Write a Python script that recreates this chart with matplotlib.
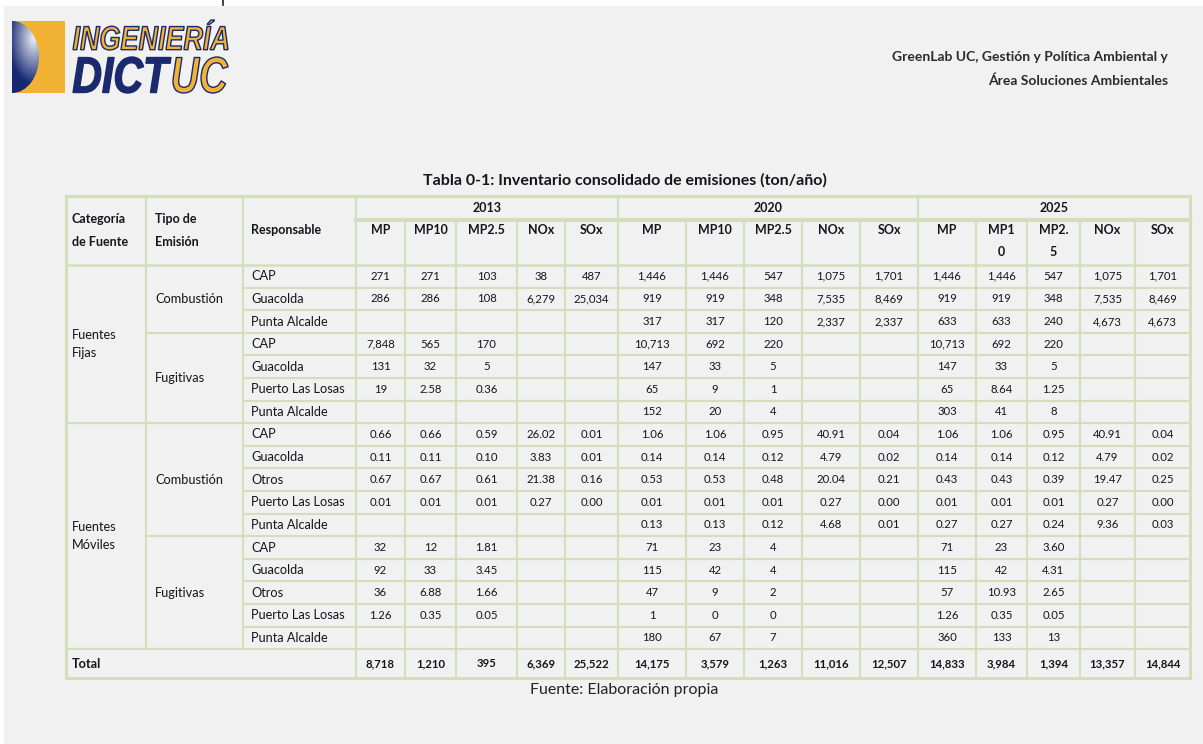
#!/usr/bin/env python
#-*- coding: utf-8 -*-

import numpy as np
import matplotlib
matplotlib.use('Agg')
import matplotlib.pyplot as plt
from matplotlib.patches import Rectangle, Ellipse, PathPatch
from matplotlib.textpath import TextPath
from matplotlib.font_manager import FontProperties
from matplotlib.transforms import Affine2D

# ---- table content ----
title = 'Tabla 0-1: Inventario consolidado de emisiones (ton/año)'
source = 'Fuente: Elaboración propia'
header_right = ['GreenLab UC, Gestión y Política Ambiental y', 'Área Soluciones Ambientales']

years = ['2013', '2020', '2025']
pollutants = ['MP', 'MP10', 'MP2.5', 'NOx', 'SOx']
pollutants_2025 = ['MP', 'MP1\n0', 'MP2.\n5', 'NOx', 'SOx']

categorias = ['Fuentes\nFijas', 'Fuentes\nMóviles']
categoria_rows = [7, 10]
tipos = ['Combustión', 'Fugitivas', 'Combustión', 'Fugitivas']
tipo_rows = [3, 4, 5, 5]

responsables = ['CAP', 'Guacolda', 'Punta Alcalde',
                'CAP', 'Guacolda', 'Puerto Las Losas', 'Punta Alcalde',
                'CAP', 'Guacolda', 'Otros', 'Puerto Las Losas', 'Punta Alcalde',
                'CAP', 'Guacolda', 'Otros', 'Puerto Las Losas', 'Punta Alcalde']

vals_2013 = [
    ['271', '271', '103', '38', '487'],
    ['286', '286', '108', '6,279', '25,034'],
    ['', '', '', '', ''],
    ['7,848', '565', '170', '', ''],
    ['131', '32', '5', '', ''],
    ['19', '2.58', '0.36', '', ''],
    ['', '', '', '', ''],
    ['0.66', '0.66', '0.59', '26.02', '0.01'],
    ['0.11', '0.11', '0.10', '3.83', '0.01'],
    ['0.67', '0.67', '0.61', '21.38', '0.16'],
    ['0.01', '0.01', '0.01', '0.27', '0.00'],
    ['', '', '', '', ''],
    ['32', '12', '1.81', '', ''],
    ['92', '33', '3.45', '', ''],
    ['36', '6.88', '1.66', '', ''],
    ['1.26', '0.35', '0.05', '', ''],
    ['', '', '', '', ''],
]
vals_2020 = [
    ['1,446', '1,446', '547', '1,075', '1,701'],
    ['919', '919', '348', '7,535', '8,469'],
    ['317', '317', '120', '2,337', '2,337'],
    ['10,713', '692', '220', '', ''],
    ['147', '33', '5', '', ''],
    ['65', '9', '1', '', ''],
    ['152', '20', '4', '', ''],
    ['1.06', '1.06', '0.95', '40.91', '0.04'],
    ['0.14', '0.14', '0.12', '4.79', '0.02'],
    ['0.53', '0.53', '0.48', '20.04', '0.21'],
    ['0.01', '0.01', '0.01', '0.27', '0.00'],
    ['0.13', '0.13', '0.12', '4.68', '0.01'],
    ['71', '23', '4', '', ''],
    ['115', '42', '4', '', ''],
    ['47', '9', '2', '', ''],
    ['1', '0', '0', '', ''],
    ['180', '67', '7', '', ''],
]
vals_2025 = [
    ['1,446', '1,446', '547', '1,075', '1,701'],
    ['919', '919', '348', '7,535', '8,469'],
    ['633', '633', '240', '4,673', '4,673'],
    ['10,713', '692', '220', '', ''],
    ['147', '33', '5', '', ''],
    ['65', '8.64', '1.25', '', ''],
    ['303', '41', '8', '', ''],
    ['1.06', '1.06', '0.95', '40.91', '0.04'],
    ['0.14', '0.14', '0.12', '4.79', '0.02'],
    ['0.43', '0.43', '0.39', '19.47', '0.25'],
    ['0.01', '0.01', '0.01', '0.27', '0.00'],
    ['0.27', '0.27', '0.24', '9.36', '0.03'],
    ['71', '23', '3.60', '', ''],
    ['115', '42', '4.31', '', ''],
    ['57', '10.93', '2.65', '', ''],
    ['1.26', '0.35', '0.05', '', ''],
    ['360', '133', '13', '', ''],
]
totals_2013 = ['8,718', '1,210', '395', '6,369', '25,522']
totals_2020 = ['14,175', '3,579', '1,263', '11,016', '12,507']
totals_2025 = ['14,833', '3,984', '1,394', '13,357', '14,844']

# ---- layout (pixels) ----
W, H = 1203, 744
col_x = [66, 146, 243, 356, 405, 456, 517, 565, 618, 686, 744, 802,
         860, 918, 976, 1027, 1080, 1135, 1190]
y_top = 196
y_year = 220
y_head = 265
row_h = 22.6
y_total_bot = 678

bg = '#f1f1f1'
grid = '#d3dfbc'
ink = '#15151c'
font = 'Lato'


def hline(ax, y, x0, x1, lw=1.5):
	ax.plot([x0, x1], [y, y], color=grid, lw=lw, solid_capstyle='projecting', zorder=2)


def vline(ax, x, y0, y1, lw=1.5):
	ax.plot([x, x], [y0, y1], color=grid, lw=lw, solid_capstyle='projecting', zorder=2)


def word(ax, s, x0, x1, y0, y1, face, edge, lw=1.0):
	prop = FontProperties(family='Liberation Sans', weight='bold', style='italic')
	tp = TextPath((0, 0), s, size=40, prop=prop)
	bb = tp.get_extents()
	sx = (x1 - x0) / bb.width
	sy = (y1 - y0) / bb.height
	tr = Affine2D().translate(-bb.x0, -bb.y0).scale(sx, -sy).translate(x0, y1)
	ax.add_patch(PathPatch(tr.transform_path(tp), facecolor=face, edgecolor=edge, lw=lw, zorder=5))


def logo(ax):
	yel = '#f2b233'
	navy = '#1b2a6e'
	ax.add_patch(Rectangle((12, 21), 53, 72, facecolor=yel, edgecolor='none', zorder=3))
	# shaded half disc
	gx = np.linspace(12, 40, 60)
	gy = np.linspace(21, 93, 150)
	X, Y = np.meshgrid(gx, gy)
	d = np.sqrt(((X - 34) / 26.0) ** 2 + ((Y - 38) / 46.0) ** 2)
	t = np.clip(d, 0, 1)[..., None]
	light = np.array([0.93, 0.94, 0.97])
	dark = np.array([0.09, 0.16, 0.45])
	img = light * (1 - t) + dark * t
	im = ax.imshow(img, extent=(12, 40, 93, 21), origin='upper', zorder=4, interpolation='bilinear')
	im.set_clip_path(Ellipse((12, 57), 54, 72, transform=ax.transData))
	ax.set_aspect('auto')
	word(ax, 'INGENIERÍA', 73, 228, 20, 50, yel, navy)
	word(ax, 'DICT', 73, 171, 57, 93, navy, navy)
	word(ax, 'UC', 173, 228, 57, 93, yel, navy)


def main():

	fig = plt.figure(figsize=(W / 100.0, H / 100.0), dpi=100)
	fig.patch.set_facecolor(bg)
	ax = fig.add_axes([0, 0, 1, 1])
	ax.set_xlim(0, W)
	ax.set_ylim(H, 0)
	ax.axis('off')

	# white page edges
	ax.add_patch(Rectangle((0, 0), W, 6, facecolor='white', edgecolor='none', zorder=1))
	ax.add_patch(Rectangle((0, 0), 4, H, facecolor='white', edgecolor='none', zorder=1))
	ax.plot([223, 223], [0, 5], color='#222222', lw=1.2, zorder=2)

	logo(ax)

	ax.text(1168, 57, header_right[0], ha='right', va='center', fontsize=10,
	        fontweight='bold', color='#2b2b2b', family=font)
	ax.text(1168, 81, header_right[1], ha='right', va='center', fontsize=10,
	        fontweight='bold', color='#2b2b2b', family=font)

	ax.text(625, 180, title, ha='center', va='center', fontsize=11.5,
	        fontweight='bold', color=ink, family=font)

	n = len(responsables)
	row_y = [y_head + i * row_h for i in range(n + 1)]
	y_bot_data = row_y[-1]

	# ---- grid ----
	x0, x1 = col_x[0], col_x[-1]
	hline(ax, y_top, x0, x1, lw=2.2)
	hline(ax, y_year, col_x[3], x1, lw=3.0)
	hline(ax, y_head, x0, x1, lw=1.8)
	hline(ax, y_total_bot, x0, x1, lw=2.2)
	hline(ax, y_bot_data, x0, x1)
	for i in range(1, n):
		hline(ax, row_y[i], col_x[2], x1)
	k = 0
	for r in tipo_rows[:-1]:
		k += r
		hline(ax, row_y[k], col_x[1], col_x[2])
	k = 0
	for r in categoria_rows[:-1]:
		k += r
		hline(ax, row_y[k], col_x[0], col_x[1])

	vline(ax, x0, y_top, y_total_bot, lw=2.2)
	vline(ax, x1, y_top, y_total_bot, lw=2.2)
	vline(ax, col_x[1], y_top, y_bot_data)
	vline(ax, col_x[2], y_top, y_bot_data)
	for j in range(3, len(col_x) - 1):
		if (j - 3) % 5 == 0:
			vline(ax, col_x[j], y_top, y_total_bot)
		else:
			vline(ax, col_x[j], y_year, y_total_bot)

	# ---- header text ----
	ax.text(72, (y_top + y_head) / 2.0, 'Categoría\nde Fuente', ha='left', va='center',
	        fontsize=9, fontweight='bold', color=ink, family=font, linespacing=2.15)
	ax.text(155, (y_top + y_head) / 2.0, 'Tipo de\nEmisión', ha='left', va='center',
	        fontsize=9, fontweight='bold', color=ink, family=font, linespacing=2.15)
	ax.text(251, (y_top + y_head) / 2.0, 'Responsable', ha='left', va='center',
	        fontsize=9, fontweight='bold', color=ink, family=font)
	for b, yr in enumerate(years):
		xa = col_x[3 + 5 * b]
		xb = col_x[8 + 5 * b]
		ax.text((xa + xb) / 2.0, (y_top + y_year) / 2.0, yr, ha='center', va='center',
		        fontsize=9, fontweight='bold', color=ink, family=font)
		labels = pollutants_2025 if yr == '2025' else pollutants
		for j, lab in enumerate(labels):
			xc = (col_x[3 + 5 * b + j] + col_x[4 + 5 * b + j]) / 2.0
			ax.text(xc, y_year + 4, lab, ha='center', va='top', fontsize=9,
			        fontweight='bold', color=ink, family=font, linespacing=2.0)

	# ---- body text ----
	k = 0
	for cat, r in zip(categorias, categoria_rows):
		yc = (row_y[k] + row_y[k + r]) / 2.0
		ax.text(72, yc, cat, ha='left', va='center', fontsize=9.2, color=ink,
		        family=font, linespacing=1.6)
		k += r
	k = 0
	for tp, r in zip(tipos, tipo_rows):
		yc = (row_y[k] + row_y[k + r]) / 2.0
		ax.text(155, yc, tp, ha='left', va='center', fontsize=9.2, color=ink, family=font)
		k += r

	all_vals = [vals_2013, vals_2020, vals_2025]
	for i, resp in enumerate(responsables):
		yc = (row_y[i] + row_y[i + 1]) / 2.0
		ax.text(251, yc, resp, ha='left', va='center', fontsize=9.2, color=ink, family=font)
		for b, vals in enumerate(all_vals):
			for j, v in enumerate(vals[i]):
				if v == '':
					continue
				xc = (col_x[3 + 5 * b + j] + col_x[4 + 5 * b + j]) / 2.0
				ax.text(xc, yc, v, ha='center', va='center', fontsize=8.2, color=ink, family=font)

	yc = (y_bot_data + y_total_bot) / 2.0
	ax.text(72, yc, 'Total', ha='left', va='center', fontsize=9.2, fontweight='bold',
	        color=ink, family=font)
	for b, tots in enumerate([totals_2013, totals_2020, totals_2025]):
		for j, v in enumerate(tots):
			xc = (col_x[3 + 5 * b + j] + col_x[4 + 5 * b + j]) / 2.0
			ax.text(xc, yc, v, ha='center', va='center', fontsize=8.2, fontweight='bold',
			        color=ink, family=font)

	ax.text(624, 690, source, ha='center', va='center', fontsize=11.5, color='#222222', family=font)

	fig.savefig('out.png', dpi=100, facecolor=bg)

if __name__ == '__main__':
	main()
